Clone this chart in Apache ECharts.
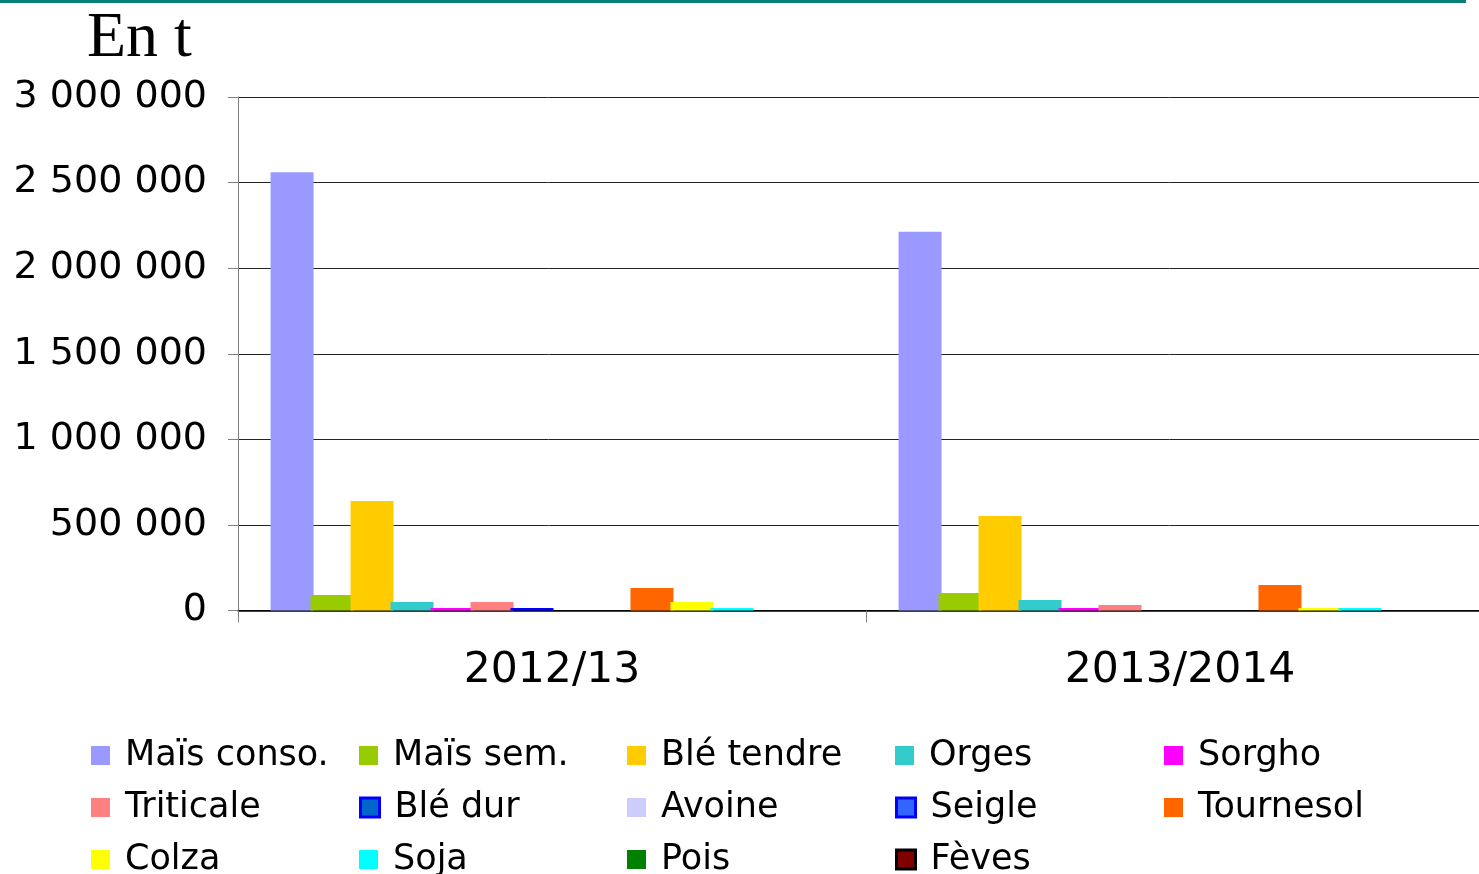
<!DOCTYPE html>
<html>
<head>
<meta charset="utf-8">
<script src="https://cdn.jsdelivr.net/npm/echarts@6/dist/echarts.min.js"></script>
<style>
html,body{margin:0;padding:0;background:#fff;}
#chart{width:1479px;height:874px;}
</style>
</head>
<body>
<div id="chart"></div>
<script>
var categories = ['2012/13', '2013/2014'];
var seriesNames = ['Maïs conso.', 'Maïs sem.', 'Blé tendre', 'Orges', 'Sorgho',
  'Triticale', 'Blé dur', 'Avoine', 'Seigle', 'Tournesol',
  'Colza', 'Soja', 'Pois', 'Fèves'];
var maisConso = [2560000, 2213000];
var maisSem = [91000, 102000];
var bleTendre = [640000, 552000];
var orges = [50000, 61000];
var sorgho = [15000, 15000];
var triticale = [50000, 32000];
var bleDur = [15000, 0];
var avoine = [0, 0];
var seigle = [0, 0];
var tournesol = [132000, 149000];
var colza = [50000, 15000];
var soja = [15000, 15000];
var pois = [0, 0];
var feves = [0, 0];
var yTicks = [0, 500000, 1000000, 1500000, 2000000, 2500000, 3000000];

var values = [maisConso, maisSem, bleTendre, orges, sorgho, triticale, bleDur,
  avoine, seigle, tournesol, colza, soja, pois, feves];
var colors = ['#9999ff', '#99cc00', '#ffcc00', '#33cccc', '#ff00ff',
  '#ff8080', '#0066cc', '#ccccff', '#3366ff', '#ff6600',
  '#ffff00', '#00ffff', '#008000', '#800000'];
var borders = {6: '#0000ff', 8: '#0000ff', 13: '#000000'};
var barColors = colors.slice();
barColors[6] = '#0000ff';

var FONT = 'DejaVu Sans';

var series = seriesNames.map(function (name, i) {
  return {
    name: name,
    type: 'bar',
    data: values[i],
    barWidth: 43,
    barGap: '-7%',
    itemStyle: { color: barColors[i] },
    emphasis: { disabled: true }
  };
});

function fmt(v) {
  return String(v).replace(/\B(?=(\d{3})+(?!\d))/g, ' ');
}

var colLefts = [91, 359, 627, 895, 1164];
var rowCenters = [755, 807, 859];
var legends = seriesNames.map(function (name, i) {
  var c = i % 5, r = Math.floor(i / 5);
  var st = { color: colors[i], borderWidth: 0 };
  if (borders[i]) { st.borderColor = borders[i]; st.borderWidth = 3; }
  return {
    orient: 'horizontal',
    left: colLefts[c],
    top: rowCenters[r] - 17,
    padding: 0,
    itemWidth: 19,
    itemHeight: 19,
    icon: 'rect',
    selectedMode: false,
    data: [{ name: name, itemStyle: st }],
    textStyle: { fontFamily: FONT, fontSize: 35, lineHeight: 34, color: '#000', padding: [0, 0, 0, 10] }
  };
});

var chart = echarts.init(document.getElementById('chart'), null, { renderer: 'canvas' });
chart.setOption({
  animation: false,
  backgroundColor: '#fff',
  title: {
    text: 'En t',
    left: 82,
    top: 2,
    textStyle: { fontFamily: 'Liberation Serif', fontWeight: 'normal', fontSize: 64, lineHeight: 64, color: '#000' }
  },
  graphic: [{
    type: 'rect',
    shape: { x: 0, y: 0, width: 1466, height: 3 },
    style: { fill: '#0a7f7a' }
  }],
  legend: legends,
  grid: { left: 238, width: 1256, top: 97, height: 513.5, containLabel: false, outerBoundsMode: 'none' },
  xAxis: {
    type: 'category',
    data: categories,
    axisLine: { show: true, lineStyle: { color: '#000', width: 1.5 } },
    axisTick: { show: true, length: 12, lineStyle: { color: '#808080', width: 1 } },
    axisLabel: { fontFamily: FONT, fontSize: 42.5, color: '#000', margin: 39 }
  },
  yAxis: {
    type: 'value',
    min: yTicks[0],
    max: yTicks[yTicks.length - 1],
    interval: yTicks[1] - yTicks[0],
    axisLine: { show: true, lineStyle: { color: '#808080', width: 1 } },
    axisTick: { show: true, inside: false, length: 10, lineStyle: { color: '#808080' } },
    splitLine: { show: true, lineStyle: { color: '#222', width: 1 } },
    axisLabel: { fontFamily: FONT, fontSize: 38, color: '#000', margin: 31, formatter: fmt, padding: [4, 0, 0, 0] }
  },
  series: series
});
</script>
</body>
</html>
